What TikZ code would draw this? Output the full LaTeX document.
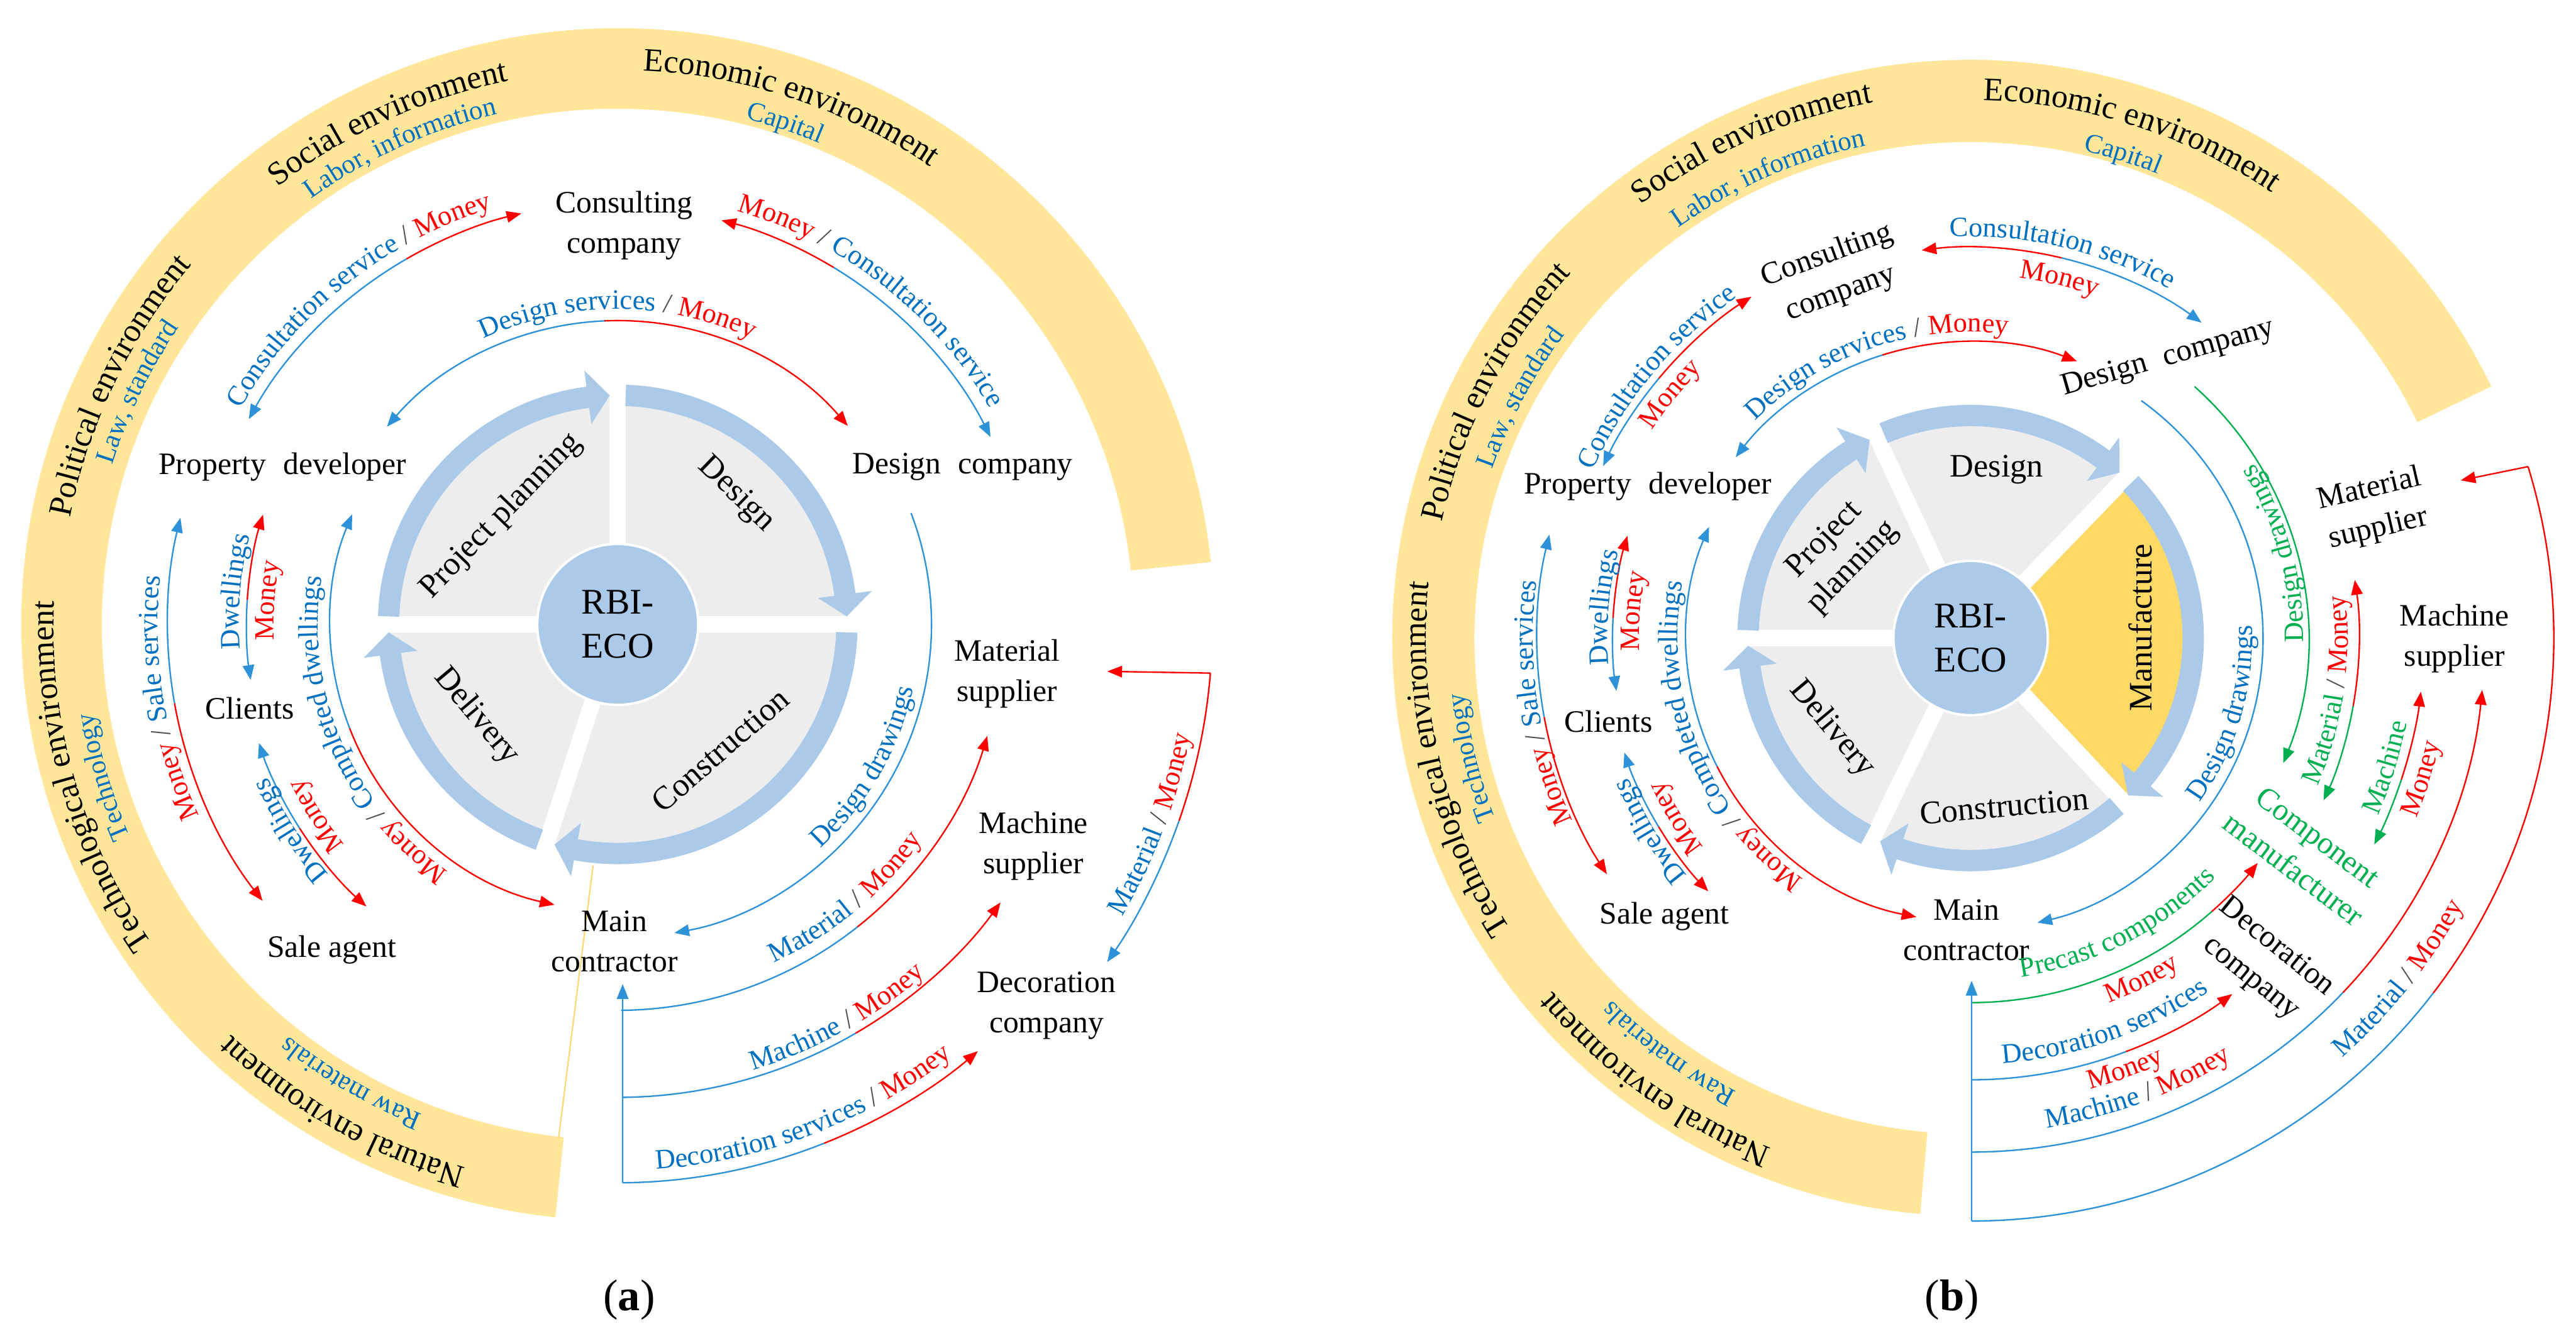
\documentclass[tikz,border=0pt]{standalone}
\usepackage{fontspec}
\setmainfont{Liberation Serif}
\usetikzlibrary{arrows.meta,decorations.text}
\definecolor{tblue}{RGB}{0,112,192}
\definecolor{lblue}{RGB}{45,146,215}
\definecolor{cred}{RGB}{255,0,0}
\definecolor{cgreen}{RGB}{0,176,80}
\definecolor{band}{RGB}{255,230,153}
\definecolor{manu}{RGB}{255,217,102}
\definecolor{ring}{RGB}{171,201,232}
\definecolor{sect}{RGB}{237,237,237}
\definecolor{slash}{RGB}{80,80,80}
\definecolor{thinyel}{RGB}{255,214,110}
\newcommand\fsN{\fontsize{19}{24.5}\selectfont}
\newcommand\fsS{\fontsize{20}{24}\selectfont}
\newcommand\fsL{\fontsize{17}{20}\selectfont}
\newcommand\fsE{\fontsize{20}{24}\selectfont}
\newcommand\fsT{\fontsize{16.5}{20}\selectfont}
\newcommand\fsC{\fontsize{22}{27}\selectfont}
\newcommand\cwlabel[4]{\path[decorate,decoration={text along path,text align=center,text={#4}}] ([shift={({#3+80}:#2)}]#1) arc[start angle={#3+80}, delta angle=-160, radius=#2];}
\newcommand\ccwlabel[4]{\path[decorate,decoration={text along path,text align=center,text={#4}}] ([shift={({#3-80}:#2)}]#1) arc[start angle={#3-80}, delta angle=160, radius=#2];}
\newcommand\seg[5]{\draw[#1] ([shift={(#4:#3)}]#2) arc[start angle=#4, end angle=#5, radius=#3];}
\newcommand\ringarrow[6]{\fill[ring] ([shift={(#2:#5)}]#1) arc[start angle=#2, end angle={#3+#6}, radius=#5] -- ([shift={({#3+#6}:{#5+10})}]#1) -- ([shift={(#3:{(#4+#5)/2})}]#1) -- ([shift={({#3+#6}:{#4-10})}]#1) -- ([shift={({#3+#6}:#4)}]#1) arc[start angle={#3+#6}, end angle=#2, radius=#4] -- cycle;}
\begin{document}
\begin{tikzpicture}[x=1pt,y=1pt,>={Triangle[length=9pt,width=7pt]},
  lb/.style={draw=lblue,line width=0.9pt},
  lr/.style={draw=cred,line width=0.9pt},
  lg/.style={draw=cgreen,line width=0.9pt},
  nd/.style={font=\fsN,align=center,inner sep=1pt},
  sec/.style={font=\fsS,align=center,inner sep=1pt}]
\fill[white] (0,0) rectangle (1568,813.2);
\useasboundingbox (0,0) rectangle (1568,813.2);
\coordinate (ca) at (376,433);
\coordinate (cb) at (1199.5,424.7);

% environment bands
\fill[band] ([shift={(6:363)}]ca) arc[start angle=6,end angle=264,radius=363] -- ([shift={(264:314)}]ca) arc[start angle=264,end angle=6,radius=314] -- cycle;
\fill[band] ([shift={(25.8:352)}]cb) arc[start angle=25.8,end angle=265,radius=352] -- ([shift={(265:302)}]cb) arc[start angle=265,end angle=25.8,radius=302] -- cycle;
\draw[thinyel,line width=0.8pt] (340,120.2) -- (361,286.2);

% pies
\fill[sect] (ca) circle[radius=140];
\foreach \a in {90,0,180,-108} \draw[white,line width=10pt] (ca) -- ++(\a:153);
\fill[sect] (cb) circle[radius=136];
\fill[manu] (cb) -- ([shift={(-47:136)}]cb) arc[start angle=-47,end angle=46,radius=136] -- cycle;
\foreach \a in {180,115,46,-47,-116} \draw[white,line width=10pt] (cb) -- ++(\a:150);

\ringarrow{ca}{178}{92}{133}{146}{5.5}
\ringarrow{ca}{88}{2}{133}{146}{5.5}
\ringarrow{ca}{-2}{-106}{133}{146}{5.5}
\ringarrow{ca}{250}{182}{133}{146}{5.5}
\ringarrow{cb}{178}{117}{129}{142}{5.5}
\ringarrow{cb}{113}{48}{129}{142}{5.5}
\ringarrow{cb}{44}{-45}{129}{142}{5.5}
\ringarrow{cb}{-49}{-114}{129}{142}{5.5}
\ringarrow{cb}{242}{182}{129}{142}{5.5}

\node[circle,fill=ring,draw=white,line width=1.5pt,minimum size=98pt,inner sep=0pt,font=\fsC,align=center] (eco_a) at (ca) {RBI-\\ECO};
\node[circle,fill=ring,draw=white,line width=1.5pt,minimum size=94pt,inner sep=0pt,font=\fsC,align=center] (eco_b) at (cb) {RBI-\\ECO};

\node[sec,rotate=46] (pp_a) at (305,499) {Project planning};
\node[sec,rotate=-44] (ds_a) at (448,512) {Design};
\node[sec,rotate=41] (co_a) at (438.5,356.5) {Construction};
\node[sec,rotate=-50] (dl_a) at (290,377) {Delivery};
\node[sec,rotate=46] (pp_b) at (1119.4,476) {Project\\planning};
\node[sec] (ds_b) at (1215.4,527.3) {Design};
\node[sec,rotate=90] (mf_b) at (1303,431) {Manufacture};
\node[sec,rotate=5] (co_b) at (1220,322.3) {Construction};
\node[sec,rotate=-50] (dl_b) at (1115,369.2) {Delivery};

% nodes (a)
\node[nd] (cons_a) at (380,676) {Consulting\\company};
\node[nd] (des_a) at (586,529) {Design\hspace{.3em} company};
\node[nd] (pd_a) at (172,529) {Property\hspace{.3em} developer};
\node[nd] (cli_a) at (152,382) {Clients};
\node[nd] (sale_a) at (202,235) {Sale agent};
\node[nd] (mc_a) at (374,240) {Main\\contractor};
\node[nd] (mat_a) at (613,403) {Material\\supplier};
\node[nd] (mac_a) at (629,298) {Machine\\supplier};
\node[nd] (dec_a) at (637,201) {Decoration\\company};
% nodes (b)
\node[nd,rotate=20] (cons_b) at (1116.3,646) {Consulting\\company};
\node[nd,rotate=16] (des_b) at (1319.7,595) {Design\hspace{.3em} company};
\node[nd] (pd_b) at (1003,517) {Property\hspace{.3em} developer};
\node[nd] (cli_b) at (979,374) {Clients};
\node[nd] (sale_b) at (1013,255.3) {Sale agent};
\node[nd] (mc_b) at (1197,247) {Main\\contractor};
\node[nd,rotate=13] (mat_b) at (1445,503) {Material\\supplier};
\node[nd] (mac_b) at (1494,424.4) {Machine\\supplier};
\node[nd,rotate=-37,text=cgreen] (cmp_b) at (1403.5,293.7) {Component\\manufacturer};
\node[nd,rotate=-39] (decc_b) at (1377.8,227) {Decoration\\company};

% connectors (a)
\seg{lb,<-}{ca}{257}{150.9}{120} \seg{lr,->}{ca}{257}{120}{103.2}
\seg{lr,<-}{ca}{254}{75.6}{58.8} \seg{lb,->}{ca}{254}{58.8}{26.7}
\seg{lb,<-}{ca}{185}{139.4}{92.5} \seg{lr,->}{ca}{185}{92.5}{40.8}
\seg{lb,<-}{ca}{274}{166.3}{190.1} \seg{lr,->}{ca}{274}{190.1}{217.9}
\seg{lr,<-}{ca}{226}{162.8}{176.2} \seg{lb,->}{ca}{226}{176.2}{188.6}
\seg{lb,<-}{ca}{230}{198.3}{212.7} \seg{lr,->}{ca}{230}{212.7}{228.3}
\seg{lb,<-}{ca}{175}{157.5}{201.2} \seg{lr,->}{ca}{175}{201.2}{257.3}
\seg{lb,->}{ca}{191}{20.8}{-79.6}
\seg{lb}{ca}{235}{-89.5}{-51.6} \seg{lr,->}{ca}{235}{-51.6}{-16.8}
\seg{lb}{ca}{288}{-89.5}{-59.8} \seg{lr,->}{ca}{288}{-59.8}{-36}
\seg{lb}{ca}{340}{-89.5}{-68.3} \seg{lr,->}{ca}{340}{-68.3}{-49.85}
\coordinate (mcin_a) at (379,214);
\draw[lb,->] ([shift={(-89.5:340)}]ca) -- (mcin_a);
\seg{lr}{ca}{362}{-4.7}{-19.3} \seg{lb,->}{ca}{362}{-19.3}{-34.6}
\coordinate (matin_a) at (674,404.4);
\draw[lr,->] ([shift={(-4.7:362)}]ca) -- (matin_a);

% connectors (b)
\seg{lb,<-}{cb}{247}{154.9}{140.2} \seg{lr,->}{cb}{247}{140.2}{122.7}
\seg{lr,<-}{cb}{238}{97.2}{76.5} \seg{lb,->}{cb}{238}{76.5}{53.8}
\seg{lb,<-}{cb}{180.5}{142.4}{107.3} \seg{lr,->}{cb}{180.5}{107.3}{69}
\seg{lb,<-}{cb}{264}{166.2}{190.5} \seg{lr,->}{cb}{264}{190.5}{213}
\seg{lr,<-}{cb}{218}{163.4}{176.8} \seg{lb,->}{cb}{218}{176.8}{188.5}
\seg{lb,<-}{cb}{222}{198.3}{211.2} \seg{lr,->}{cb}{222}{211.2}{224}
\seg{lb,<-}{cb}{173}{157}{206.9} \seg{lr,->}{cb}{173}{206.9}{259}
\seg{lb,->}{cb}{178}{54.3}{-76.8}
\seg{lg,->}{cb}{205}{48.3}{-21.8}
\seg{lg,<-}{cb}{236.5}{-24.7}{-10.1} \seg{lr,->}{cb}{236.5}{-10.1}{8.6}
\seg{lg,<-}{cb}{276}{-27.1}{-18.2} \seg{lr,->}{cb}{276}{-18.2}{-6.8}
\seg{lg}{cb}{222}{-89.9}{-48.6} \seg{lr,->}{cb}{222}{-48.6}{-38.1}
\seg{lb}{cb}{269}{-89.9}{-69.4} \seg{lr,->}{cb}{269}{-69.4}{-53.7}
\seg{lb}{cb}{313}{-89.9}{-43.6} \seg{lr,->}{cb}{313}{-43.6}{-5.8}
\seg{lb}{cb}{355}{-89.9}{-37.5} \seg{lr}{cb}{355}{-37.5}{17.1}
\coordinate (matin_b) at (1497.8,520.7);
\draw[lr,->] ([shift={(17.1:355)}]cb) -- (matin_b);
\coordinate (mcin_b) at (1200.1,216);
\draw[lb,->] ([shift={(-89.9:355)}]cb) -- (mcin_b);

% labels (a)
\cwlabel{ca}{264.5}{128.5}{|\fsL\color{tblue}|Consultation service |\fsL\color{slash}|/ |\fsL\color{cred}|Money}
\cwlabel{ca}{262}{52}{|\fsL\color{cred}|Money |\fsL\color{slash}|/ |\fsL\color{tblue}|Consultation service}
\cwlabel{ca}{192}{90}{|\fsL\color{tblue}|Design services |\fsL\color{slash}|/ |\fsL\color{cred}|Money}
\cwlabel{ca}{280}{189.3}{|\fsL\color{cred}|Money |\fsL\color{slash}|/ |\fsL\color{tblue}|Sale services}
\cwlabel{ca}{230.5}{175.1}{|\fsL\color{tblue}|Dwellings}
\cwlabel{ca}{209.4}{176.1}{|\fsL\color{cred}|Money}
\cwlabel{ca}{232.5}{212.2}{|\fsL\color{tblue}|Dwellings}
\cwlabel{ca}{213.5}{212.4}{|\fsL\color{cred}|Money}
\cwlabel{ca}{182.5}{203.2}{|\fsL\color{cred}|Money |\fsL\color{slash}|/ |\fsL\color{tblue}|Completed dwellings}
\ccwlabel{ca}{184}{-30}{|\fsL\color{tblue}|Design drawings}
\ccwlabel{ca}{227}{-50.2}{|\fsL\color{tblue}|Material |\fsL\color{slash}|/ |\fsL\color{cred}|Money}
\ccwlabel{ca}{283.5}{-60.9}{|\fsL\color{tblue}|Machine |\fsL\color{slash}|/ |\fsL\color{cred}|Money}
\ccwlabel{ca}{332.5}{-69.1}{|\fsL\color{tblue}|Decoration services |\fsL\color{slash}|/ |\fsL\color{cred}|Money}
\ccwlabel{ca}{355}{-20.5}{|\fsL\color{tblue}|Material |\fsL\color{slash}|/ |\fsL\color{cred}|Money}
% environment (a)
\cwlabel{ca}{337.4}{114.6}{|\fsE\color{black}|Social environment}
\cwlabel{ca}{319.2}{114.5}{|\fsT\color{tblue}|Labor, information}
\cwlabel{ca}{337.4}{71.5}{|\fsE\color{black}|Economic environment}
\cwlabel{ca}{317.6}{71.5}{|\fsT\color{tblue}|Capital}
\cwlabel{ca}{339.4}{154.4}{|\fsE\color{black}|Political environment}
\cwlabel{ca}{322.6}{154.2}{|\fsT\color{tblue}|Law, standard}
\cwlabel{ca}{343.4}{196}{|\fsE\color{black}|Technological environment}
\cwlabel{ca}{323.6}{196.5}{|\fsT\color{tblue}|Technology}
\cwlabel{ca}{343.4}{240.5}{|\fsE\color{black}|Natural environment}
\cwlabel{ca}{321}{239.8}{|\fsT\color{tblue}|Raw materials}

% labels (b)
\cwlabel{cb}{251.4}{140.2}{|\fsL\color{tblue}|Consultation service}
\cwlabel{cb}{231.4}{140.9}{|\fsL\color{cred}|Money}
\cwlabel{cb}{244.4}{76.6}{|\fsL\color{tblue}|Consultation service}
\cwlabel{cb}{221.4}{76.1}{|\fsL\color{cred}|Money}
\cwlabel{cb}{186.4}{108.9}{|\fsL\color{tblue}|Design services |\fsL\color{slash}|/ |\fsL\color{cred}|Money}
\cwlabel{cb}{266.4}{188.6}{|\fsL\color{cred}|Money |\fsL\color{slash}|/ |\fsL\color{tblue}|Sale services}
\cwlabel{cb}{221}{175.2}{|\fsL\color{tblue}|Dwellings}
\cwlabel{cb}{201.7}{175.4}{|\fsL\color{cred}|Money}
\cwlabel{cb}{225}{211.1}{|\fsL\color{tblue}|Dwellings}
\cwlabel{cb}{206.3}{211.4}{|\fsL\color{cred}|Money}
\cwlabel{cb}{178.4}{202.1}{|\fsL\color{cred}|Money |\fsL\color{slash}|/ |\fsL\color{tblue}|Completed dwellings}
\ccwlabel{cb}{171.6}{-16.5}{|\fsL\color{tblue}|Design drawings}
\ccwlabel{cb}{202.6}{15.5}{|\fsL\color{cgreen}|Design drawings}
\ccwlabel{cb}{229.6}{-8.3}{|\fsL\color{cgreen}|Material |\fsL\color{slash}|/ |\fsL\color{cred}|Money}
\ccwlabel{cb}{270.5}{-17.3}{|\fsL\color{cgreen}|Machine}
\ccwlabel{cb}{292.6}{-17.3}{|\fsL\color{cred}|Money}
\ccwlabel{cb}{208.6}{-62.9}{|\fsL\color{cgreen}|Precast components}
\ccwlabel{cb}{237.6}{-63.4}{|\fsL\color{cred}|Money}
\ccwlabel{cb}{259.6}{-70.8}{|\fsL\color{tblue}|Decoration services}
\ccwlabel{cb}{284}{-70.3}{|\fsL\color{cred}|Money}
\ccwlabel{cb}{301.7}{-69.7}{|\fsL\color{tblue}|Machine |\fsL\color{slash}|/ |\fsL\color{cred}|Money}
\ccwlabel{cb}{341.3}{-38.5}{|\fsL\color{tblue}|Material |\fsL\color{slash}|/ |\fsL\color{cred}|Money}
% environment (b)
\cwlabel{cb}{331.4}{113.8}{|\fsE\color{black}|Social environment}
\cwlabel{cb}{306.6}{113.7}{|\fsT\color{tblue}|Labor, information}
\cwlabel{cb}{327.4}{72.3}{|\fsE\color{black}|Economic environment}
\cwlabel{cb}{304.6}{72.5}{|\fsT\color{tblue}|Capital}
\cwlabel{cb}{329.4}{152.6}{|\fsE\color{black}|Political environment}
\cwlabel{cb}{308.6}{151.9}{|\fsT\color{tblue}|Law, standard}
\cwlabel{cb}{331.4}{193.2}{|\fsE\color{black}|Technological environment}
\cwlabel{cb}{309.6}{193.5}{|\fsT\color{tblue}|Technology}
\cwlabel{cb}{333.4}{234.4}{|\fsE\color{black}|Natural environment}
\cwlabel{cb}{310.6}{234}{|\fsT\color{tblue}|Raw materials}

\node[font=\fontsize{27}{30}\selectfont] (capa) at (383,21.7) {(\textbf{a})};
\node[font=\fontsize{27}{30}\selectfont] (capb) at (1188.2,21.7) {(\textbf{b})};
\end{tikzpicture}
\end{document}
